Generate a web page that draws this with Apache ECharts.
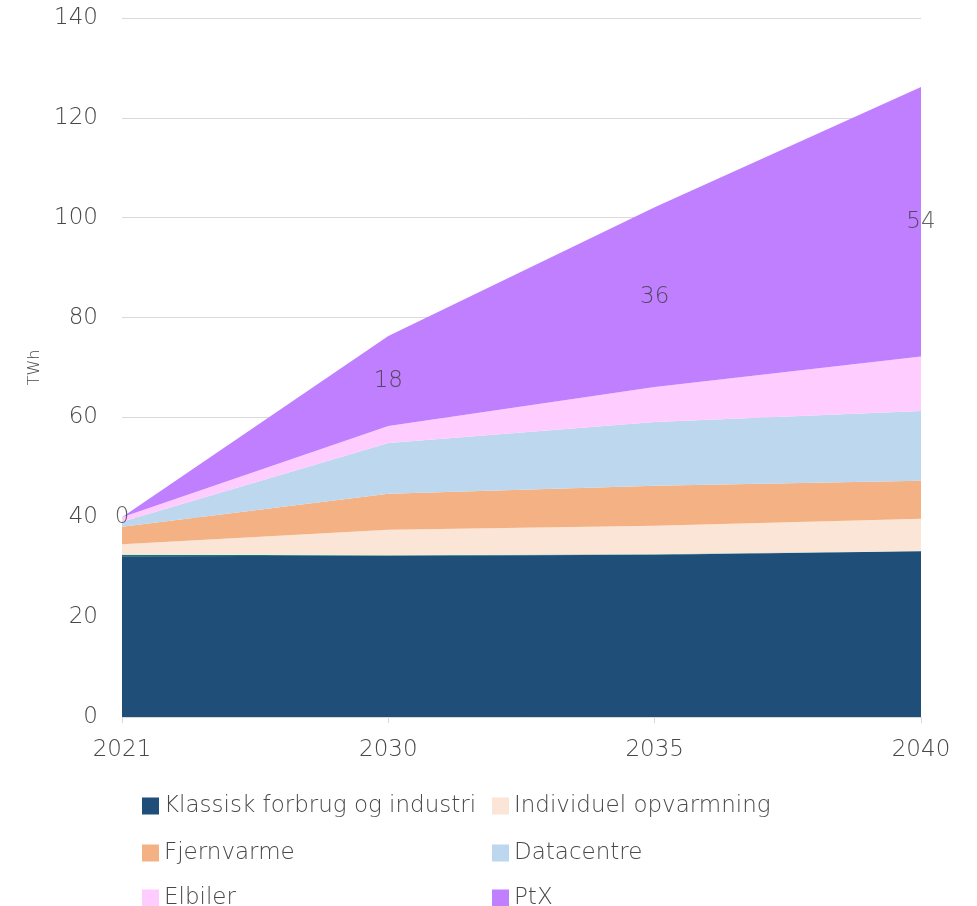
<!DOCTYPE html>
<html>
<head>
<meta charset="utf-8">
<script src="https://cdn.jsdelivr.net/npm/echarts@6/dist/echarts.min.js"></script>
<style>
  html, body { margin: 0; padding: 0; background: #fff; }
  #chart { width: 977px; height: 906px; }
</style>
</head>
<body>
<div id="chart"></div>
<script>
// Elforbrug i TWh fordelt på forbrugstyper
const years = ['2021', '2030', '2035', '2040'];
const klassisk = [32.2, 32.3, 32.5, 33.2];
const oevrigt = [0.3, 0.1, 0.1, 0.1];
const individuel = [2.1, 5.1, 5.7, 6.4];
const fjernvarme = [3.5, 7.2, 8.0, 7.6];
const datacentre = [1.0, 10.2, 12.8, 14.0];
const elbiler = [0.9, 3.4, 7.0, 10.9];
const ptx = [0, 18, 36, 54];
const yTicks = { min: 0, max: 140, interval: 20 };

const FONT = '"DejaVu Sans", sans-serif';
const TEXT = '#484848';
const WEIGHT = 200;

function areaSeries(name, data, color) {
  return {
    name: name,
    type: 'line',
    stack: 'total',
    data: data,
    symbol: 'none',
    lineStyle: { width: 0 },
    areaStyle: { color: color, opacity: 1 },
    itemStyle: { color: color },
    emphasis: { disabled: true },
    z: 2
  };
}

// Labels for PtX sit halfway up the PtX band
const ptxLabelPoints = years.map((y, i) => {
  const below = klassisk[i] + oevrigt[i] + individuel[i] + fjernvarme[i] + datacentre[i] + elbiler[i];
  return [y, below + ptx[i] / 2, ptx[i]];
});

// Legend laid out as a two-column grid, one entry per legend component
const legendCells = [
  ['Klassisk forbrug og industri', 142, 804],
  ['Individuel opvarmning', 492, 804],
  ['Fjernvarme', 142, 851],
  ['Datacentre', 492, 851],
  ['Elbiler', 142, 896],
  ['PtX', 492, 896]
];
const legends = legendCells.map(([name, x, cy]) => ({
  left: x,
  top: cy - 10,
  padding: 0,
  itemWidth: 17,
  itemHeight: 17,
  icon: 'rect',
  selectedMode: false,
  data: [name],
  textStyle: { color: TEXT, fontSize: 23, lineHeight: 24, fontFamily: FONT, fontWeight: WEIGHT }
}));

const option = {
  animation: false,
  grid: { left: 122, right: 56, top: 18, bottom: 189 },
  xAxis: {
    type: 'category',
    data: years,
    boundaryGap: false,
    axisLine: { lineStyle: { color: '#d9d9d9', width: 1 } },
    axisTick: { show: true, alignWithLabel: true, length: 6, lineStyle: { color: '#d9d9d9' } },
    axisLabel: { color: TEXT, fontSize: 23, fontFamily: FONT, fontWeight: WEIGHT, margin: 22 },
    splitLine: { show: false }
  },
  yAxis: {
    type: 'value',
    min: yTicks.min,
    max: yTicks.max,
    interval: yTicks.interval,
    name: 'TWh',
    nameLocation: 'middle',
    nameGap: 79,
    nameRotate: 90,
    nameTextStyle: { color: TEXT, fontSize: 16, fontFamily: FONT, fontWeight: WEIGHT },
    axisLine: { show: false },
    axisTick: { show: false },
    axisLabel: { color: TEXT, fontSize: 23, fontFamily: FONT, fontWeight: WEIGHT, margin: 24 },
    splitLine: { lineStyle: { color: '#d9d9d9', width: 1 } }
  },
  legend: legends,
  series: [
    areaSeries('Klassisk forbrug og industri', klassisk, '#1f4e79'),
    areaSeries('Øvrigt', oevrigt, '#0f7a78'),
    areaSeries('Individuel opvarmning', individuel, '#fbe5d6'),
    areaSeries('Fjernvarme', fjernvarme, '#f4b183'),
    areaSeries('Datacentre', datacentre, '#bdd7ee'),
    areaSeries('Elbiler', elbiler, '#ffccff'),
    areaSeries('PtX', ptx, '#bf7fff'),
    {
      name: 'PtX-etiketter',
      type: 'scatter',
      data: ptxLabelPoints,
      symbolSize: 0,
      silent: true,
      z: 5,
      label: {
        show: true,
        position: 'inside',
        formatter: p => String(p.data[2]),
        color: '#3a3a3a',
        fontSize: 23,
        fontFamily: FONT,
        fontWeight: WEIGHT
      }
    }
  ]
};

const chart = echarts.init(document.getElementById('chart'), null, { renderer: 'canvas' });
chart.setOption(option);
</script>
</body>
</html>
